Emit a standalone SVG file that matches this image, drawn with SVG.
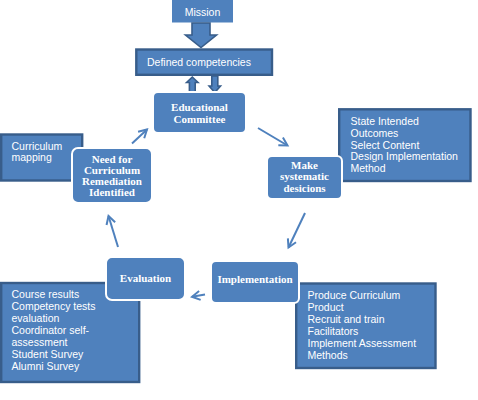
<svg xmlns="http://www.w3.org/2000/svg" width="478" height="400" viewBox="0 0 478 400">
<defs>
<style>
.side{fill:#4F81BD;stroke:#385D8A;stroke-width:2.4}
.node{fill:#4F81BD;stroke:#FFFFFF;stroke-width:2}
.st{font-family:"Liberation Sans",Arial,sans-serif;font-size:10.5px;fill:#FFFFFF}
.nt{font-family:"Liberation Serif","Times New Roman",serif;font-size:11px;font-weight:bold;fill:#FFFFFF;text-anchor:middle}
.blk{fill:#4F81BD;stroke:#385D8A;stroke-width:1.6}
.con{fill:none;stroke:#4F81BD;stroke-width:2}
</style>
<marker id="ah" markerUnits="userSpaceOnUse" markerWidth="14" markerHeight="14" viewBox="-10 -7 12 14" refX="0" refY="0" orient="auto">
<path d="M-8,-4.5 L0,0 L-8,4.5" fill="none" stroke="#4F81BD" stroke-width="2"/>
</marker>
</defs>

<g id="mission">
<rect x="172" y="0" width="61" height="22.5" fill="#4F81BD"/>
<text class="st" x="202.5" y="16" text-anchor="middle">Mission</text>
</g>

<g id="mission-arrow">
<path class="blk" d="M192,23 L210,23 L210,35 L216.5,35 L201,47.5 L185.5,35 L192,35 Z"/>
</g>

<g id="defined-competencies">
<rect class="side" x="136.3" y="49.5" width="135.7" height="25.3"/>
<text class="st" x="147" y="66">Defined competencies</text>
</g>

<g id="link-arrows">
<path class="blk" d="M192.3,77 L198,82.5 L195.2,82.5 L195.2,92 L189.4,92 L189.4,82.5 L186.6,82.5 Z"/>
<path class="blk" d="M211.8,76 L217.8,76 L217.8,86 L220.5,86 L214.8,92.5 L209.1,86 L211.8,86 Z"/>
</g>

<g id="educational-committee">
<rect class="node" x="153" y="92" width="93" height="41" rx="5"/>
<text class="nt" x="199.5" y="111">Educational</text>
<text class="nt" x="199.5" y="123">Committee</text>
</g>

<g id="curriculum-mapping">
<rect class="side" x="1.2" y="134.5" width="81" height="46"/>
<text class="st" x="11.5" y="150">Curriculum</text>
<text class="st" x="11.5" y="161">mapping</text>
</g>

<g id="need">
<rect class="node" x="72" y="148" width="80" height="55" rx="6"/>
<text class="nt" x="112" y="163">Need for</text>
<text class="nt" x="112" y="174">Curriculum</text>
<text class="nt" x="112" y="185">Remediation</text>
<text class="nt" x="112" y="196">Identified</text>
</g>

<g id="state-intended">
<rect class="side" x="339.2" y="109.3" width="131.3" height="71.7"/>
<text class="st" x="350.5" y="125">State Intended</text>
<text class="st" x="350.5" y="136.8">Outcomes</text>
<text class="st" x="350.5" y="148.5">Select Content</text>
<text class="st" x="350.5" y="160.3">Design Implementation</text>
<text class="st" x="350.5" y="172">Method</text>
</g>

<g id="make-decisions">
<rect class="node" x="267" y="156" width="75" height="43" rx="5"/>
<text class="nt" x="304.5" y="168.5">Make</text>
<text class="nt" x="304.5" y="180">systematic</text>
<text class="nt" x="304.5" y="191.5">desicions</text>
</g>

<g id="course-results">
<rect class="side" x="1.2" y="283" width="138" height="99"/>
<text class="st" x="11.5" y="298">Course results</text>
<text class="st" x="11.5" y="310">Competency tests</text>
<text class="st" x="11.5" y="322">evaluation</text>
<text class="st" x="11.5" y="334">Coordinator self-</text>
<text class="st" x="11.5" y="346">assessment</text>
<text class="st" x="11.5" y="358">Student Survey</text>
<text class="st" x="11.5" y="370">Alumni Survey</text>
</g>

<g id="evaluation">
<rect class="node" x="106" y="257" width="79" height="43" rx="6"/>
<text class="nt" x="145.5" y="281.5">Evaluation</text>
</g>

<g id="produce">
<rect class="side" x="296.2" y="283.5" width="139.3" height="84.5"/>
<text class="st" x="307.5" y="299">Produce Curriculum</text>
<text class="st" x="307.5" y="311">Product</text>
<text class="st" x="307.5" y="323">Recruit and train</text>
<text class="st" x="307.5" y="335">Facilitators</text>
<text class="st" x="307.5" y="347">Implement Assessment</text>
<text class="st" x="307.5" y="359">Methods</text>
</g>

<g id="implementation">
<rect class="node" x="211" y="261" width="88" height="42" rx="5"/>
<text class="nt" x="255" y="283">Implementation</text>
</g>

<g id="connectors">
<line class="con" x1="258" y1="128" x2="287.5" y2="145.5" marker-end="url(#ah)"/>
<line class="con" x1="305" y1="213" x2="288.5" y2="247.5" marker-end="url(#ah)"/>
<line class="con" x1="205" y1="294.5" x2="192" y2="296.8" marker-end="url(#ah)"/>
<line class="con" x1="118" y1="247" x2="108.5" y2="216" marker-end="url(#ah)"/>
<line class="con" x1="132" y1="143.5" x2="147" y2="129.5" marker-end="url(#ah)"/>
</g>
</svg>
